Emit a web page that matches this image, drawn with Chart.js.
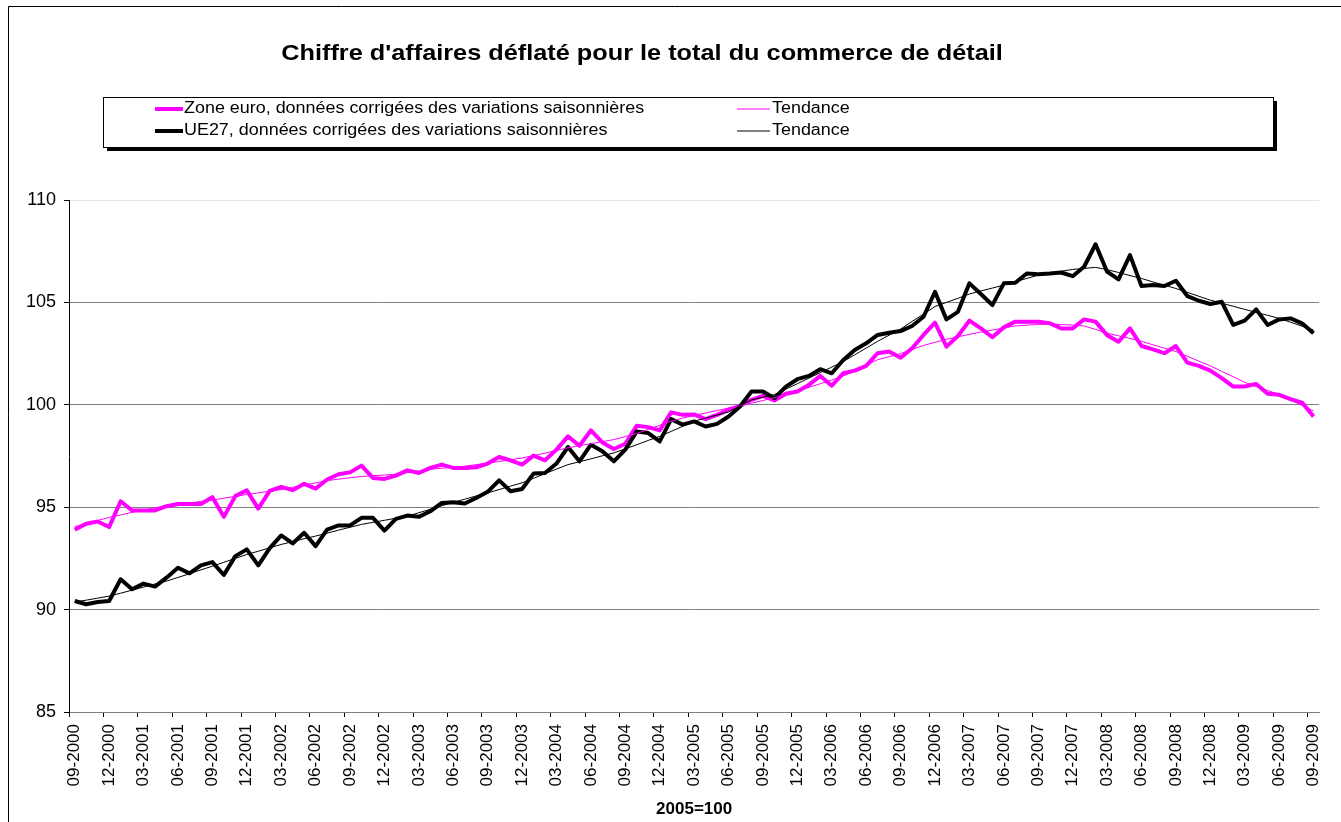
<!DOCTYPE html>
<html>
<head>
<meta charset="utf-8">
<script src="https://cdn.jsdelivr.net/npm/chart.js@4.4.0/dist/chart.umd.min.js"></script>
<style>
  html, body { margin: 0; padding: 0; background: #fff; }
  #wrap { width: 1341px; height: 822px; position: relative; }
</style>
</head>
<body>
<div id="wrap"><canvas id="chart" width="1341" height="822"></canvas></div>
<script>
// Monthly categories 09-2000 .. 09-2009
const months = [];
for (let y = 2000; y <= 2009; y++) {
    for (let m = 1; m <= 12; m++) {
        if ((y === 2000 && m < 9) || (y === 2009 && m > 9)) continue;
        months.push(String(m).padStart(2, '0') + '-' + y);
    }
}

const yTicks = [85, 90, 95, 100, 105, 110];

// Zone euro, seasonally adjusted
const euroZone = [
    93.9, 94.19, 94.3, 94.03, 95.29, 94.84, 94.84, 94.84, 95.05, 95.16,
    95.16, 95.16, 95.49, 94.53, 95.54, 95.83, 94.93, 95.8, 95.99, 95.83,
    96.14, 95.91, 96.35, 96.61, 96.7, 97.03, 96.43, 96.38, 96.54, 96.8,
    96.67, 96.92, 97.08, 96.92, 96.92, 96.95, 97.13, 97.45, 97.29, 97.08,
    97.52, 97.29, 97.81, 98.46, 98.0, 98.75, 98.16, 97.84, 98.1, 98.98,
    98.91, 98.75, 99.63, 99.51, 99.53, 99.3, 99.51, 99.76, 99.95, 100.24,
    100.44, 100.21, 100.54, 100.65, 100.97, 101.41, 100.93, 101.54, 101.67, 101.9,
    102.52, 102.6, 102.3, 102.76, 103.41, 104.01, 102.84, 103.36, 104.11, 103.73,
    103.3, 103.78, 104.06, 104.06, 104.06, 103.98, 103.73, 103.73, 104.17, 104.06,
    103.4, 103.08, 103.73, 102.87, 102.71, 102.52, 102.87, 102.06, 101.9, 101.67,
    101.3, 100.89, 100.89, 101.02, 100.54, 100.49, 100.28, 100.11, 99.43
];

// Zone euro, trend
const euroZoneTrend = [
    94.05, 94.2, 94.35, 94.5, 94.62, 94.75, 94.86, 94.97, 95.07, 95.14,
    95.21, 95.28, 95.35, 95.44, 95.53, 95.62, 95.7, 95.78, 95.86, 95.97,
    96.08, 96.19, 96.3, 96.37, 96.44, 96.5, 96.54, 96.57, 96.61, 96.69,
    96.77, 96.85, 96.9, 96.95, 97.0, 97.08, 97.15, 97.23, 97.32, 97.4,
    97.52, 97.64, 97.77, 97.9, 98.0, 98.1, 98.2, 98.3, 98.45, 98.6,
    98.8, 99.0, 99.2, 99.35, 99.48, 99.6, 99.72, 99.84, 99.95, 100.08,
    100.21, 100.35, 100.52, 100.68, 100.85, 101.03, 101.21, 101.4, 101.66, 101.93,
    102.2, 102.35, 102.5, 102.7, 102.9, 103.05, 103.2, 103.32, 103.44, 103.55,
    103.65, 103.75, 103.85, 103.89, 103.92, 103.95, 103.92, 103.89, 103.85, 103.68,
    103.5, 103.37, 103.24, 103.1, 102.93, 102.77, 102.6, 102.37, 102.13, 101.9,
    101.63, 101.37, 101.1, 100.9, 100.7, 100.5, 100.23, 99.97, 99.7
];

// UE27, seasonally adjusted
const eu27 = [
    90.42, 90.26, 90.37, 90.42, 91.48, 90.99, 91.27, 91.12, 91.56, 92.04,
    91.77, 92.16, 92.32, 91.69, 92.61, 92.94, 92.16, 93.0, 93.62, 93.23,
    93.75, 93.1, 93.91, 94.11, 94.11, 94.48, 94.48, 93.86, 94.43, 94.59,
    94.53, 94.8, 95.21, 95.24, 95.18, 95.45, 95.75, 96.31, 95.78, 95.89,
    96.64, 96.67, 97.13, 97.94, 97.24, 98.05, 97.73, 97.24, 97.81, 98.7,
    98.62, 98.21, 99.3, 99.03, 99.19, 98.94, 99.07, 99.43, 99.92, 100.65,
    100.65, 100.32, 100.89, 101.25, 101.41, 101.74, 101.54, 102.19, 102.68, 103.0,
    103.41, 103.52, 103.6, 103.85, 104.3, 105.52, 104.17, 104.54, 105.93, 105.41,
    104.87, 105.93, 105.96, 106.41, 106.38, 106.41, 106.46, 106.28, 106.74, 107.84,
    106.5, 106.12, 107.31, 105.8, 105.85, 105.8, 106.06, 105.31, 105.08, 104.92,
    105.03, 103.9, 104.11, 104.66, 103.9, 104.17, 104.22, 103.98, 103.49
];

// UE27, trend
const eu27Trend = [
    90.37, 90.46, 90.56, 90.66, 90.8, 90.95, 91.1, 91.25, 91.39, 91.57,
    91.75, 91.94, 92.12, 92.31, 92.5, 92.69, 92.85, 93.02, 93.18, 93.32,
    93.46, 93.59, 93.73, 93.88, 94.02, 94.16, 94.26, 94.36, 94.46, 94.56,
    94.73, 94.9, 95.07, 95.24, 95.39, 95.55, 95.7, 95.86, 96.03, 96.19,
    96.41, 96.64, 96.86, 97.08, 97.22, 97.36, 97.51, 97.65, 97.85, 98.05,
    98.26, 98.46, 98.7, 98.95, 99.2, 99.35, 99.5, 99.65, 99.95, 100.24,
    100.37, 100.5, 100.77, 101.03, 101.3, 101.57, 101.84, 102.11, 102.44, 102.77,
    103.1, 103.4, 103.7, 104.07, 104.43, 104.8, 105.0, 105.2, 105.41, 105.56,
    105.7, 105.85, 106.01, 106.17, 106.33, 106.42, 106.52, 106.61, 106.66, 106.71,
    106.6, 106.46, 106.31, 106.17, 106.0, 105.84, 105.68, 105.49, 105.3, 105.11,
    104.96, 104.81, 104.66, 104.51, 104.37, 104.22, 104.03, 103.84, 103.65
];

const FONT = '"Liberation Sans", Arial, sans-serif';
const PINK = '#FF00FF';
const BLACK = '#000000';

const legendItems = [
    { text: 'Zone euro, données corrigées des variations saisonnières', color: PINK, width: 4, col: 0, row: 0 },
    { text: 'Tendance', color: PINK, width: 1, col: 1, row: 0 },
    { text: 'UE27, données corrigées des variations saisonnières', color: BLACK, width: 4, col: 0, row: 1 },
    { text: 'Tendance', color: BLACK, width: 1, col: 1, row: 1 },
];

// text in the original is a bit wider than the installed Arial metric clone
function wideText(ctx, text, x, y, stretch) {
    ctx.save();
    ctx.translate(x, y);
    ctx.scale(stretch, 1);
    ctx.fillText(text, 0, 0);
    ctx.restore();
}

// Title, frame and boxed legend drawn straight on the canvas
const decorPlugin = {
    id: 'decor',
    afterDraw(chart) {
        const ctx = chart.ctx;
        ctx.save();

        // outer frame
        ctx.strokeStyle = '#000';
        ctx.lineWidth = 1;
        ctx.beginPath();
        ctx.moveTo(8.5, 822);
        ctx.lineTo(8.5, 6.5);
        ctx.lineTo(1341, 6.5);
        ctx.stroke();

        // title
        ctx.fillStyle = '#000';
        ctx.font = 'bold 22px ' + FONT;
        ctx.textAlign = 'center';
        ctx.textBaseline = 'middle';
        wideText(ctx, "Chiffre d'affaires déflaté pour le total du commerce de détail", 642, 54, 1.15);

        // legend box with shadow
        const bx = 103, by = 97, bw = 1170, bh = 50;
        ctx.fillStyle = '#000';
        ctx.fillRect(bx + 4, by + 4, bw, bh);
        ctx.fillStyle = '#fff';
        ctx.fillRect(bx, by, bw, bh);
        ctx.strokeStyle = '#000';
        ctx.strokeRect(bx + 0.5, by + 0.5, bw, bh);

        const sampleX = [[155, 183], [737, 770]];
        const textX = [184, 772];
        const rowY = [109, 131];
        ctx.font = '16px ' + FONT;
        ctx.textAlign = 'left';
        legendItems.forEach(item => {
            const y = rowY[item.row];
            ctx.strokeStyle = item.color;
            ctx.lineWidth = item.width;
            ctx.beginPath();
            ctx.moveTo(sampleX[item.col][0], y);
            ctx.lineTo(sampleX[item.col][1], y);
            ctx.stroke();
            ctx.fillStyle = '#000';
            wideText(ctx, item.text, textX[item.col], y, 1.12);
        });

        ctx.restore();
    }
};

const makeLine = (label, data, color, width, order) => ({
    label,
    data,
    borderColor: color,
    backgroundColor: color,
    borderWidth: width,
    pointRadius: 0,
    tension: 0,
    fill: false,
    borderJoinStyle: 'round',
    order
});

new Chart(document.getElementById('chart'), {
    type: 'line',
    data: {
        labels: months,
        datasets: [
            makeLine('Zone euro, données corrigées des variations saisonnières', euroZone, PINK, 4, 4),
            makeLine('UE27, données corrigées des variations saisonnières', eu27, BLACK, 4, 3),
            makeLine('Tendance', euroZoneTrend, PINK, 1, 2),
            makeLine('Tendance', eu27Trend, BLACK, 1, 1),
        ]
    },
    options: {
        responsive: false,
        animation: false,
        layout: { padding: { top: 200, right: 18, left: 0, bottom: 0 } },
        plugins: {
            legend: { display: false },
            title: { display: false },
            tooltip: { enabled: false }
        },
        scales: {
            x: {
                type: 'category',
                offset: true,
                afterFit(scale) { scale.height = 110; },
                grid: {
                    offset: true,
                    drawOnChartArea: false,
                    drawTicks: true,
                    tickLength: 5,
                    tickColor: ctx => (ctx.index % 3 === 0 && ctx.index < months.length) ? '#000' : 'rgba(0,0,0,0)'
                },
                border: { color: '#808080', width: 1 },
                ticks: {
                    autoSkip: false,
                    maxRotation: 90,
                    minRotation: 90,
                    padding: 7,
                    color: '#000',
                    font: { family: FONT, size: 17 },
                    callback: (val, idx) => idx % 3 === 0 ? months[idx] : ''
                },
                title: {
                    display: true,
                    text: '2005=100',
                    color: '#000',
                    font: { family: FONT, size: 17, weight: 'bold' },
                    padding: { top: 0, bottom: 2 }
                }
            },
            y: {
                min: 85,
                max: 110,
                afterFit(scale) { scale.width = 69; },
                afterBuildTicks(scale) { scale.ticks = yTicks.map(v => ({ value: v })); },
                grid: {
                    color: ctx => ctx.tick && ctx.tick.value === 110 ? '#e6e6e6' : '#808080',
                    tickColor: '#000',
                    tickLength: 5
                },
                border: { color: '#000', width: 1 },
                ticks: {
                    padding: 8,
                    color: '#000',
                    font: { family: FONT, size: 18 }
                }
            }
        }
    },
    plugins: [decorPlugin]
});
</script>
</body>
</html>
